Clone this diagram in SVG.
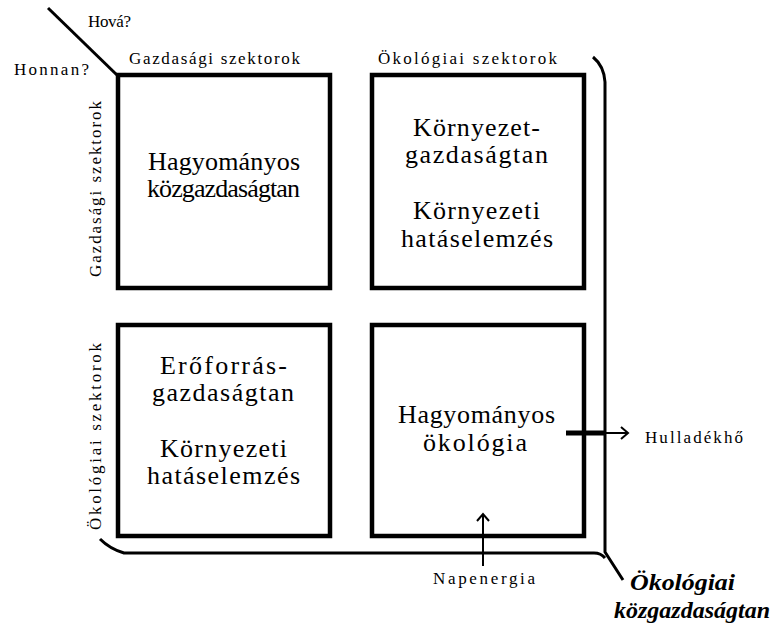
<svg xmlns="http://www.w3.org/2000/svg" width="773" height="632" viewBox="0 0 773 632">
  <style>
    .box { fill: none; stroke: #000; stroke-width: 4.5; }
    .line { fill: none; stroke: #000; stroke-width: 3; stroke-linejoin: round; }
    .thin { fill: none; stroke: #000; stroke-width: 2; }
    .big { font-family: "Liberation Serif", "Times New Roman", serif; font-size: 26px; fill: #000; }
    .small { font-family: "Liberation Serif", "Times New Roman", serif; font-size: 17px; fill: #000; }
    .title { font-family: "Liberation Serif", "Times New Roman", serif; font-size: 24px; font-weight: bold; font-style: italic; fill: #000; }
  </style>
  <rect width="773" height="632" fill="#fff"/>

  <!-- corner header -->
  <g id="corner">
    <line class="line" x1="48" y1="8" x2="118" y2="76"/>
    <text class="small" x="88" y="27" textLength="43" lengthAdjust="spacing">Hová?</text>
    <text class="small" x="14" y="75" textLength="75" lengthAdjust="spacing">Honnan?</text>
  </g>

  <!-- axis labels -->
  <g id="col-labels">
    <text class="small" x="129" y="64" textLength="171" lengthAdjust="spacing">Gazdasági szektorok</text>
    <text class="small" x="378" y="64" textLength="179" lengthAdjust="spacing">Ökológiai szektorok</text>
  </g>
  <g id="row-labels">
    <text class="small" transform="translate(101,277) rotate(-90)" textLength="176" lengthAdjust="spacing">Gazdasági szektorok</text>
    <text class="small" transform="translate(101,530) rotate(-90)" textLength="187" lengthAdjust="spacing">Ökológiai szektorok</text>
  </g>

  <!-- quadrants -->
  <g id="q-econ-econ">
    <rect class="box" x="118" y="75" width="212" height="213"/>
    <text class="big" x="148" y="170" textLength="152" lengthAdjust="spacing">Hagyományos</text>
    <text class="big" x="147" y="197" textLength="153" lengthAdjust="spacing">közgazdaságtan</text>
  </g>
  <g id="q-econ-eco">
    <rect class="box" x="372" y="75" width="212" height="213"/>
    <text class="big" x="413" y="136" textLength="127" lengthAdjust="spacing">Környezet-</text>
    <text class="big" x="405" y="163" textLength="143" lengthAdjust="spacing">gazdaságtan</text>
    <text class="big" x="413" y="219" textLength="127" lengthAdjust="spacing">Környezeti</text>
    <text class="big" x="401" y="247" textLength="152" lengthAdjust="spacing">hatáselemzés</text>
  </g>
  <g id="q-eco-econ">
    <rect class="box" x="118" y="325" width="212" height="211"/>
    <text class="big" x="160" y="374" textLength="127" lengthAdjust="spacing">Erőforrás-</text>
    <text class="big" x="152" y="401" textLength="142" lengthAdjust="spacing">gazdaságtan</text>
    <text class="big" x="160" y="457" textLength="127" lengthAdjust="spacing">Környezeti</text>
    <text class="big" x="147" y="484" textLength="153" lengthAdjust="spacing">hatáselemzés</text>
  </g>
  <g id="q-eco-eco">
    <rect class="box" x="372" y="325" width="212" height="211"/>
    <text class="big" x="398" y="423" textLength="157" lengthAdjust="spacing">Hagyományos</text>
    <text class="big" x="423" y="451" textLength="104" lengthAdjust="spacing">ökológia</text>
  </g>

  <!-- enclosing bracket of ecological economics -->
  <g id="bracket">
    <path class="line" d="M593,57 Q604,66 605,82 V552 L623,580"/>
    <path class="line" d="M100,539 Q110,549 124,553 H594 Q601,553 605,558"/>
    <text class="title" x="630" y="590" textLength="105" lengthAdjust="spacingAndGlyphs">Ökológiai</text>
    <text class="title" x="614" y="618" textLength="156" lengthAdjust="spacingAndGlyphs">közgazdaságtan</text>
  </g>

  <!-- energy flows -->
  <g id="connectors">
    <line x1="566" y1="433" x2="606" y2="433" stroke="#000" stroke-width="5"/>
    <line class="thin" x1="604" y1="433" x2="628" y2="433"/>
    <polyline class="thin" points="621,427 628,433 621,439"/>
    <line class="thin" x1="483" y1="566" x2="483" y2="514"/>
    <polyline class="thin" points="477,521 483,514 489,521"/>
  </g>
  <g id="outflow">
    <text class="small" x="645" y="443" textLength="98" lengthAdjust="spacing">Hulladékhő</text>
  </g>
  <g id="inflow">
    <text class="small" x="433" y="584" textLength="102" lengthAdjust="spacing">Napenergia</text>
  </g>
</svg>
